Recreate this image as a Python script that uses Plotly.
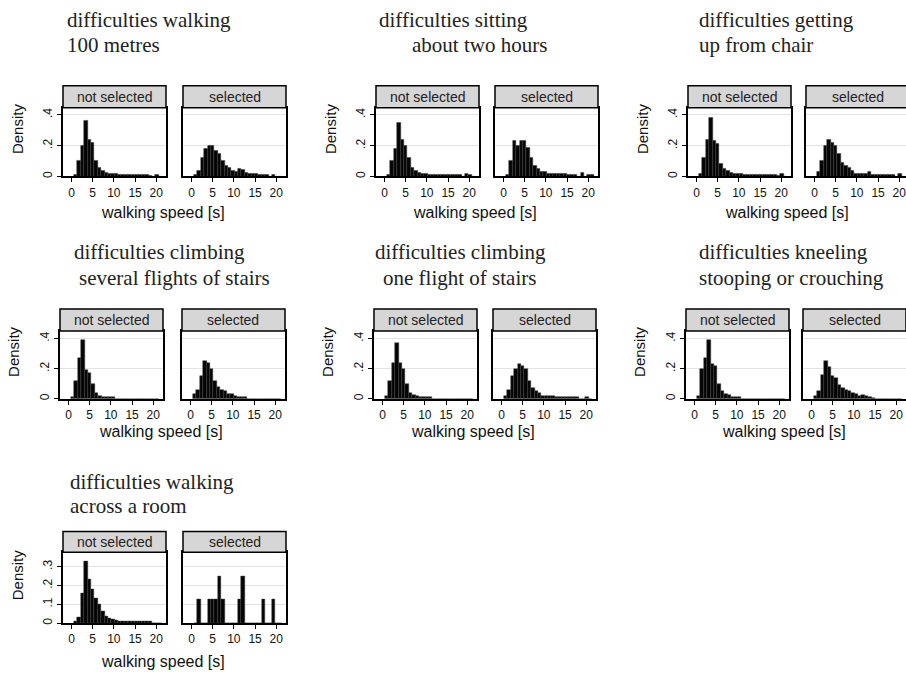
import plotly.graph_objects as go

# ---------------- data ----------------
BIN_START = 0.6
BIN_WIDTH = 0.8
N_BINS = 26
bin_centers = [BIN_START + BIN_WIDTH * (i + 0.5) for i in range(N_BINS)]

x_tick_vals = [0, 5, 10, 15, 20]
x_tick_text = ["0", "5", "10", "15", "20"]
y_tick_vals_main = [0, 0.2, 0.4]
y_tick_text_main = ["0", ".2", ".4"]
y_tick_vals_room = [0, 0.1, 0.2, 0.3]
y_tick_text_room = ["0", ".1", ".2", ".3"]

panel_labels = ["not selected", "selected"]
x_title = "walking speed [s]"
y_title = "Density"

titles = [
    ("difficulties walking", "100 metres"),
    ("difficulties sitting", "about two hours"),
    ("difficulties getting", "up from chair"),
    ("difficulties climbing", "several flights of stairs"),
    ("difficulties climbing", "one flight of stairs"),
    ("difficulties kneeling", "stooping or crouching"),
    ("difficulties walking", "across a room"),
]

walk100_not = [0.01, 0.10, 0.20, 0.36, 0.24, 0.22, 0.10, 0.06, 0.04, 0.025, 0.02, 0.02, 0.015,
               0.01, 0.01, 0.01, 0.01, 0.01, 0.01, 0.01, 0.01, 0.01, 0.008, 0.0, 0.012, 0.0]
walk100_sel = [0.01, 0.04, 0.12, 0.18, 0.20, 0.20, 0.17, 0.15, 0.10, 0.07, 0.06, 0.04, 0.03,
               0.05, 0.045, 0.025, 0.02, 0.015, 0.015, 0.01, 0.01, 0.01, 0.0, 0.01, 0.0, 0.0]
sit_not = [0.01, 0.10, 0.18, 0.35, 0.24, 0.20, 0.12, 0.06, 0.04, 0.025, 0.02, 0.02, 0.01,
           0.01, 0.01, 0.01, 0.01, 0.01, 0.01, 0.01, 0.01, 0.01, 0.0, 0.015, 0.01, 0.0]
sit_sel = [0.01, 0.10, 0.23, 0.20, 0.23, 0.23, 0.19, 0.12, 0.07, 0.05, 0.03, 0.03, 0.015,
           0.015, 0.02, 0.02, 0.02, 0.02, 0.01, 0.01, 0.01, 0.0, 0.025, 0.0, 0.01, 0.01]
getup_not = [0.02, 0.12, 0.24, 0.38, 0.23, 0.21, 0.08, 0.05, 0.035, 0.025, 0.02, 0.02, 0.02,
             0.01, 0.01, 0.01, 0.01, 0.01, 0.01, 0.01, 0.01, 0.01, 0.01, 0.005, 0.015, 0.0]
getup_sel = [0.03, 0.10, 0.20, 0.24, 0.22, 0.20, 0.15, 0.09, 0.07, 0.06, 0.04, 0.02, 0.02,
             0.02, 0.015, 0.03, 0.01, 0.01, 0.01, 0.01, 0.01, 0.01, 0.01, 0.0, 0.02, 0.0]
several_not = [0.01, 0.12, 0.27, 0.39, 0.19, 0.17, 0.10, 0.04, 0.02, 0.01, 0.01, 0.01, 0.01,
               0, 0, 0, 0, 0, 0, 0, 0, 0, 0, 0, 0, 0]
several_sel = [0.03, 0.06, 0.15, 0.25, 0.24, 0.20, 0.12, 0.08, 0.06, 0.05, 0.03, 0.03, 0.02,
               0.015, 0.015, 0.01, 0, 0, 0, 0, 0, 0, 0, 0, 0, 0]
one_not = [0.02, 0.12, 0.24, 0.37, 0.24, 0.20, 0.10, 0.04, 0.025, 0.02, 0.01, 0.01, 0.01,
           0.012, 0, 0, 0, 0, 0, 0, 0, 0, 0, 0, 0, 0]
one_sel = [0.02, 0.06, 0.15, 0.20, 0.23, 0.22, 0.20, 0.12, 0.07, 0.05, 0.04, 0.02, 0.02,
           0.02, 0.02, 0.01, 0.01, 0.01, 0.012, 0.01, 0.01, 0.01, 0.0, 0.0, 0.015, 0.0]
kneel_not = [0.02, 0.20, 0.27, 0.39, 0.23, 0.22, 0.10, 0.05, 0.03, 0.025, 0.015, 0.01, 0.01,
             0, 0, 0, 0, 0, 0, 0, 0, 0, 0, 0, 0, 0]
kneel_sel = [0.02, 0.05, 0.16, 0.25, 0.21, 0.15, 0.14, 0.09, 0.07, 0.06, 0.05, 0.04, 0.03,
             0.02, 0.025, 0.02, 0.01, 0.005, 0, 0, 0, 0, 0, 0, 0, 0]
room_not = [0.01, 0.03, 0.16, 0.33, 0.23, 0.18, 0.13, 0.10, 0.06, 0.035, 0.025, 0.02, 0.015,
            0.01, 0.01, 0.01, 0.01, 0.01, 0.01, 0.01, 0.01, 0.01, 0.01, 0, 0, 0]
room_sel = [0, 0.125, 0, 0, 0.125, 0.125, 0.125, 0.25, 0.125, 0, 0, 0, 0,
            0.125, 0.25, 0, 0, 0, 0, 0, 0.125, 0, 0, 0.125, 0, 0]

series = [
    (walk100_not, walk100_sel),
    (sit_not, sit_sel),
    (getup_not, getup_sel),
    (several_not, several_sel),
    (one_not, one_sel),
    (kneel_not, kneel_sel),
    (room_not, room_sel),
]

# ---------------- layout geometry (pixels) ----------------
W, H = 906, 675
rows_px = {1: (86, 108, 177), 2: (310, 332, 400), 3: (533, 554, 625)}
group_row = [1, 1, 1, 2, 2, 2, 3]
group_x = [(63, 166, 183, 286), (376, 479, 495, 598), (688, 791, 806, 909),
           (60, 163, 182, 285), (374, 477, 493, 596), (686, 789, 803, 906),
           (63, 166, 183, 286)]
title_pos = [((65, 20), (65, 45)), ((377, 20), (410, 45)), ((697, 20), (697, 45)),
             ((72, 253), (77, 279)), ((373, 253), (381, 279)), ((697, 253), (697, 279)),
             ((68, 483), (68, 508))]
xtitle_y = {1: 213, 2: 433, 3: 663}
XR = (-2.0, 22.3)
YR = {1: 0.447, 2: 0.45, 3: 0.376}

def px(x):
    return x / W

def py(y):
    return 1 - y / H

fig = go.Figure()
layout = {}
shapes = []
annotations = []

SANS = "Liberation Sans, Arial, sans-serif"
SERIF = "Liberation Serif, Times New Roman, serif"

k = 0
for g in range(7):
    row = group_row[g]
    s_top, s_bot, p_bot = rows_px[row]
    xs = group_x[g]
    for j in range(2):
        k += 1
        l, r = xs[2 * j], xs[2 * j + 1]
        r_vis = min(r, W)
        clipped = r > W - 1
        xr1 = XR[0] + (XR[1] - XR[0]) * (r_vis - l) / (r - l)
        xa = "xaxis" if k == 1 else f"xaxis{k}"
        ya = "yaxis" if k == 1 else f"yaxis{k}"
        xref = "x" if k == 1 else f"x{k}"
        yref = "y" if k == 1 else f"y{k}"
        vals = series[g][j]
        fig.add_trace(go.Bar(
            x=bin_centers, y=vals, width=BIN_WIDTH,
            marker=dict(color="#050505", line=dict(color="#3c3c3c", width=0.5)),
            xaxis=xref, yaxis=yref, showlegend=False, hoverinfo="skip"))
        layout[xa] = dict(
            domain=[px(l), min(px(r_vis), 1.0)], anchor=yref,
            range=[XR[0], xr1], tickvals=x_tick_vals, ticktext=x_tick_text,
            ticks="outside", ticklen=4, tickwidth=1, tickcolor="black",
            ticklabeloverflow="allow",
            tickfont=dict(family=SANS, size=12, color="#111"),
            showline=True, linecolor="black", linewidth=1.5, mirror=True,
            showgrid=False, zeroline=False, fixedrange=True)
        if row == 3:
            tv, tt = y_tick_vals_room, y_tick_text_room
        else:
            tv, tt = y_tick_vals_main, y_tick_text_main
        layout[ya] = dict(
            domain=[py(p_bot), py(s_bot)], anchor=xref,
            range=[0, YR[row]], tickvals=tv, ticktext=tt,
            showticklabels=(j == 0), ticks="outside" if j == 0 else "",
            ticklen=4, tickwidth=1, tickcolor="black", tickangle=-90,
            ticklabelstandoff=0,
            tickfont=dict(family=SANS, size=12, color="#111"),
            showline=True, linecolor="black", linewidth=1.5,
            mirror=(not clipped),
            showgrid=True, gridcolor="#e3e3e3", gridwidth=1,
            zeroline=False, fixedrange=True)
        # strip
        shapes.append(dict(type="rect", xref="paper", yref="paper",
                           x0=px(l), x1=px(r), y0=py(s_bot), y1=py(s_top),
                           fillcolor="#d6d6d6", line=dict(color="black", width=1.5),
                           layer="above"))
        annotations.append(dict(xref="paper", yref="paper",
                                x=px((l + r) / 2), y=py((s_top + s_bot) / 2),
                                text=panel_labels[j], showarrow=False,
                                xanchor="center", yanchor="middle",
                                font=dict(family=SANS, size=14, color="#222")))
    # y title
    annotations.append(dict(xref="paper", yref="paper",
                            x=px(xs[0] - 46), y=py((s_top + p_bot) / 2 - 2),
                            text=y_title, showarrow=False, textangle=-90,
                            xanchor="center", yanchor="middle",
                            font=dict(family=SANS, size=15, color="#111")))
    # x title
    annotations.append(dict(xref="paper", yref="paper",
                            x=px((xs[0] + xs[3]) / 2 - 12), y=py(xtitle_y[row]),
                            text=x_title, showarrow=False,
                            xanchor="center", yanchor="middle",
                            font=dict(family=SANS, size=16, color="#111")))
    # group title
    for line_text, (tx, ty) in zip(titles[g], title_pos[g]):
        annotations.append(dict(xref="paper", yref="paper",
                                x=px(tx), y=py(ty), text=line_text, showarrow=False,
                                xanchor="left", yanchor="middle",
                                font=dict(family=SERIF, size=21, color="#222")))

fig.update_layout(
    width=W, height=H, autosize=False,
    margin=dict(l=0, r=0, t=0, b=0),
    paper_bgcolor="white", plot_bgcolor="white",
    bargap=0, showlegend=False,
    shapes=shapes, annotations=annotations,
    **layout)

fig.write_html(
    "out.html",
    config={"displayModeBar": False},
    post_script=("document.body.style.margin='0px';"
                 "document.body.style.overflow='hidden';"
                 "document.documentElement.style.overflow='hidden';"))
